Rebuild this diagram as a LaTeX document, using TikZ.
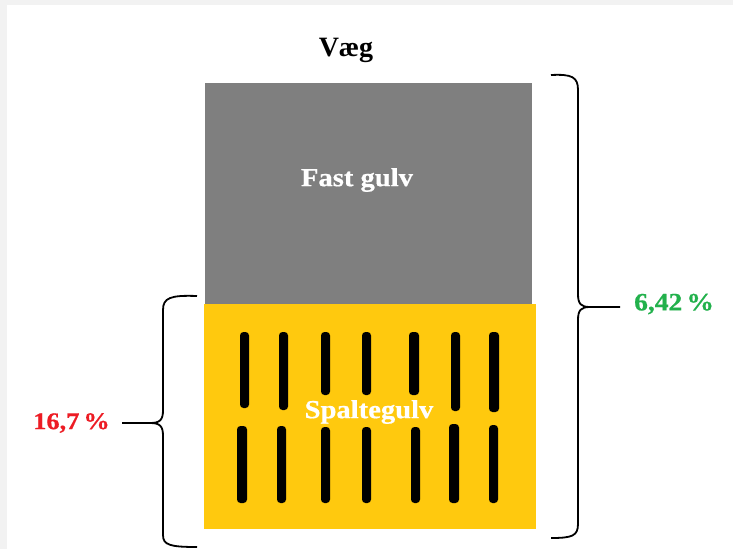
\documentclass[tikz,border=0pt]{standalone}
\usepackage{fontspec}
\setmainfont{Liberation Serif}
\newfontfamily\geo{Liberation Serif}[FakeStretch=1.1, FakeBold=0.6]
\definecolor{bgGray}{HTML}{F2F2F2}
\definecolor{floorGray}{HTML}{7F7F7F}
\definecolor{slotYellow}{HTML}{FFC90E}
\definecolor{pctGreen}{HTML}{22B14C}
\definecolor{pctRed}{HTML}{ED1C24}
\tikzset{
  slot/.style={fill=black, rounded corners=3.5pt},
  brace/.style={draw=black, line width=1.8pt, line join=round},
  whitelabel/.style={text=white, font=\geo\fontsize{26}{30}\selectfont\bfseries, inner sep=0pt},
}
\begin{document}
\begin{tikzpicture}[x=1pt,y=-1pt]
\useasboundingbox (0,0) rectangle (733,549);
\fill[bgGray] (0,0) rectangle (733,549);
\fill[white] (7,5) rectangle (733,549);
% floors
\fill[floorGray] (205,83) rectangle (532,305);
\fill[slotYellow] (204,304) rectangle (536,529);
\coordinate (fastc) at (357,180);
\coordinate (spaltc) at (369,412);
% slots upper row
\foreach \xa/\xb/\yb in {240/249/408, 279/288/410, 321/330/395, 362/371/395, 409/419/395, 451/460/411, 489/499/412}
  \fill[slot] (\xa,332) rectangle (\xb,\yb);
% slots lower row
\foreach \xa/\xb/\ya in {237/247/426, 277/286/426, 321/330/427, 362/371/427, 411/420/427, 449/459/424, 489/498/425}
  \fill[slot] (\xa,\ya) rectangle (\xb,503);
% labels
\node[font=\fontsize{28}{32}\selectfont\bfseries, inner sep=0pt] (vaeg) at (346,50) {Væg};
\node[whitelabel] (fast) at (fastc) {Fast gulv};
\node[whitelabel] (spalte) at (spaltc) {Spaltegulv};
\node[text=pctGreen, font=\geo\fontsize{25}{29}\selectfont\bfseries, inner sep=0pt, anchor=west] (green) at (634,304) {6,42\,\%};
\node[text=pctRed, font=\geo\fontsize{24}{28}\selectfont\bfseries, inner sep=0pt, anchor=east] (red) at (110,423) {16,7\,\%};
% right brace
\coordinate (rtop) at (551,75);
\coordinate (rbot) at (551,538);
\coordinate (rtip) at (620,307);
\draw[brace] (rtop) .. controls (572,74) and (578,77) .. (578,90) -- (578,294)
  .. controls (578,304) and (581,307) .. (590,307) -- (rtip);
\draw[brace] (590,307) .. controls (581,307) and (578,310) .. (578,320) -- (578,524)
  .. controls (578,536) and (572,538) .. (rbot);
% left brace
\coordinate (ltop) at (197,296);
\coordinate (lbot) at (197,547);
\coordinate (ltip) at (122,423);
\draw[brace] (ltop) .. controls (170,295) and (163,298) .. (163,310) -- (163,410)
  .. controls (163,420) and (160,423) .. (150,423) -- (ltip);
\draw[brace] (150,423) .. controls (160,423) and (163,426) .. (163,436) -- (163,535)
  .. controls (163,545) and (170,547) .. (lbot);
\end{tikzpicture}
\end{document}
